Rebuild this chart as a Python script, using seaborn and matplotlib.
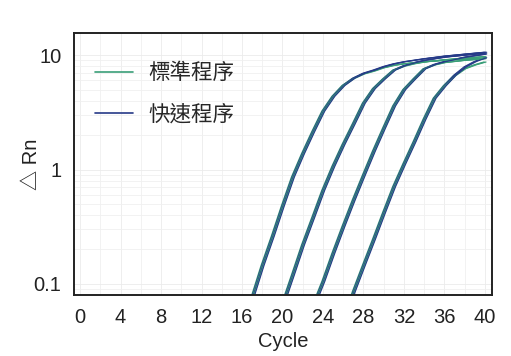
import numpy as np
import pandas as pd
import matplotlib
matplotlib.use("Agg")
import matplotlib.pyplot as plt
import seaborn as sns
from matplotlib.lines import Line2D
from matplotlib.ticker import NullFormatter, LogLocator

# amplification curves (4 dilutions, standard vs fast program)
g1_cycles = [16.5, 17, 18, 19, 20, 21, 22, 23, 24, 25, 26, 27, 28, 29, 30, 31, 32, 34, 36, 38, 40]
g1_std = [0.05, 0.076, 0.145, 0.26, 0.48, 0.86, 1.38, 2.14, 3.24, 4.37, 5.43, 6.24, 6.84, 7.24, 7.76, 8.13, 8.4, 8.75, 9.0, 9.2, 9.4]
g1_fast = [0.05, 0.076, 0.145, 0.26, 0.48, 0.86, 1.38, 2.14, 3.24, 4.37, 5.43, 6.3, 6.95, 7.4, 7.95, 8.4, 8.75, 9.3, 9.8, 10.2, 10.6]

g2_cycles = [19.6, 20, 21, 22, 23, 24, 25, 26, 27, 28, 29, 30, 31, 32, 33, 34, 36, 38, 40]
g2_std = [0.05, 0.066, 0.12, 0.22, 0.38, 0.66, 1.07, 1.66, 2.5, 3.8, 5.1, 6.2, 7.4, 8.0, 8.4, 8.7, 9.1, 9.4, 9.7]
g2_fast = [0.05, 0.066, 0.12, 0.22, 0.38, 0.66, 1.07, 1.66, 2.5, 3.8, 5.1, 6.2, 7.4, 8.1, 8.6, 9.0, 9.6, 10.0, 10.4]

g3_cycles = [22.8, 23, 24, 25, 26, 27, 28, 29, 30, 31, 32, 33, 34, 35, 36, 38, 40]
g3_std = [0.055, 0.063, 0.105, 0.186, 0.32, 0.54, 0.89, 1.45, 2.3, 3.6, 5.0, 6.2, 7.6, 8.2, 8.6, 9.0, 9.3]
g3_fast = [0.055, 0.063, 0.105, 0.186, 0.32, 0.54, 0.89, 1.45, 2.3, 3.6, 5.0, 6.2, 7.6, 8.3, 8.8, 9.6, 10.2]

g4_cycles = [26.5, 27, 28, 29, 30, 31, 32, 33, 34, 35, 36, 37, 38, 39, 40]
g4_std = [0.06, 0.085, 0.145, 0.245, 0.42, 0.71, 1.12, 1.74, 2.75, 4.2, 5.4, 6.6, 7.6, 8.2, 8.7]
g4_fast = [0.06, 0.085, 0.145, 0.245, 0.42, 0.71, 1.12, 1.74, 2.75, 4.2, 5.4, 6.7, 7.9, 8.8, 9.5]

# replicate spread in cycles
std_offsets = [-0.12, 0.0, 0.12]
fast_offsets = [-0.06, 0.06, 0.18]

programs = ["標準程序", "快速程序"]
colors = ["#3a9e78", "#263a88"]

x_ticks = [0, 4, 8, 12, 16, 20, 24, 28, 32, 36, 40]
y_ticks = [0.1, 1, 10]
y_labels = ["0.1", "1", "10"]

groups = [
    (g1_cycles, g1_std, g1_fast),
    (g2_cycles, g2_std, g2_fast),
    (g3_cycles, g3_std, g3_fast),
    (g4_cycles, g4_std, g4_fast),
]

rows = []
for gi, (cyc, std, fast) in enumerate(groups):
    for prog, vals, offs in [(programs[0], std, std_offsets), (programs[1], fast, fast_offsets)]:
        for ri, off in enumerate(offs):
            for c, v in zip(cyc, vals):
                rows.append({"cycle": c + off, "rn": v, "program": prog, "rep": ri,
                             "unit": f"{gi}-{prog}-{ri}"})
df = pd.DataFrame(rows)

sns.set_theme(style="white")
plt.rcParams["font.family"] = ["Liberation Sans", "Noto Sans CJK TC", "DejaVu Sans"]

fig = plt.figure(figsize=(5.11, 3.56), dpi=100)
ax = fig.add_axes([0.1448, 0.1713, 0.818, 0.736])

# light grid first
ax.set_yscale("log")
ax.yaxis.set_minor_locator(LogLocator(base=10, subs=np.arange(2, 10)))
ax.yaxis.set_minor_formatter(NullFormatter())
ax.set_xticks(range(0, 41, 2), minor=True)
ax.grid(which="major", color="#ebebeb", lw=0.6)
ax.grid(which="minor", color="#f0f0f0", lw=0.6)
ax.set_axisbelow(True)

# interleave replicates of both programs so the colours mix like the original
for ri in range(3):
    for prog, col in [(programs[0], colors[0]), (programs[1], colors[1])]:
        sub = df[(df["program"] == prog) & (df["rep"] == ri)]
        sns.lineplot(data=sub, x="cycle", y="rn", units="unit", estimator=None,
                     color=col, lw=0.8, sort=False, legend=False, ax=ax)

ax.set_xlim(-0.6, 40.7)
ax.set_ylim(0.08, 15.6)
ax.set_xticks(x_ticks)
ax.set_xticklabels([str(t) for t in x_ticks], fontsize=14.5, color="#222222")
ax.set_yticks(y_ticks)
ax.set_yticklabels(y_labels, fontsize=14.5, color="#222222")
ax.tick_params(axis="x", which="both", length=0, pad=9)
ax.tick_params(axis="y", which="both", length=0, pad=9)

ax.set_xlabel("Cycle", fontsize=14.5, color="#222222", labelpad=4)
ax.set_ylabel("△ Rn", fontsize=14.5, color="#222222")
ax.yaxis.set_label_coords(-0.078, 0.5)

for s in ax.spines.values():
    s.set_color("#222222")
    s.set_linewidth(1.4)

handles = [Line2D([], [], color=c, lw=1.2) for c in colors]
ax.legend(handles, programs, loc="upper left", bbox_to_anchor=(0.05, 0.885), frameon=False,
          fontsize=15.5, handlelength=1.75, handletextpad=0.75, labelspacing=0.95,
          borderpad=0, borderaxespad=0)

fig.savefig("out.png", dpi=100)
